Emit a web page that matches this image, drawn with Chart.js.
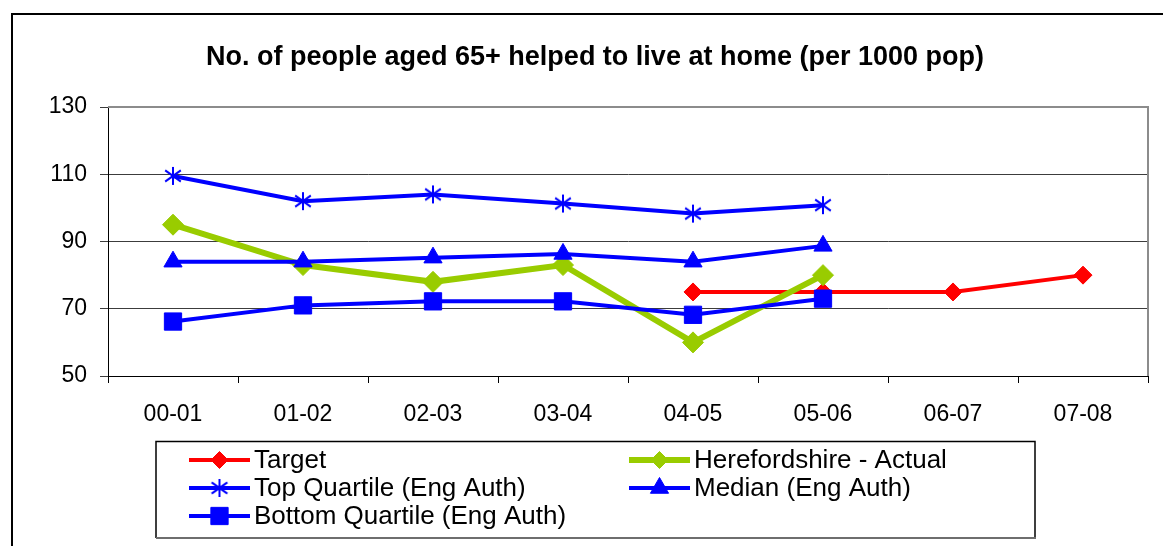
<!DOCTYPE html>
<html>
<head>
<meta charset="utf-8">
<script src="https://cdn.jsdelivr.net/npm/chart.js@4.4.1/dist/chart.umd.min.js"></script>
<style>
  html, body { margin: 0; padding: 0; background: #fff; }
  #wrap { width: 1163px; height: 546px; position: relative; }
</style>
</head>
<body>
<div id="wrap"><canvas id="c" width="1163" height="546"></canvas></div>
<script>
// Financial years on the category axis
const categories = ['00-01', '01-02', '02-03', '03-04', '04-05', '05-06', '06-07', '07-08'];

// Series values (per 1000 population aged 65+)
const target         = [null, null, null, null, 75, 75, 75, 80];
const herefordshire  = [95, 83, 78, 83, 60, 80, null, null];
const topQuartile    = [109.5, 102, 104, 101.3, 98.3, 100.8, null, null];
const median         = [84, 84, 85.2, 86.3, 84, 88.7, null, null];
const bottomQuartile = [66.2, 71, 72.2, 72.2, 68.2, 73, null, null];

// Value axis ticks
const yTicks = [50, 70, 90, 110, 130];

const chartTitle = 'No. of people aged 65+ helped to live at home (per 1000 pop)';
const seriesNames = [
  'Target',
  'Herefordshire - Actual',
  'Top Quartile (Eng Auth)',
  'Median (Eng Auth)',
  'Bottom Quartile (Eng Auth)'
];

const FONT = '"Liberation Sans", Arial, Helvetica, sans-serif';
const BLUE = '#0000FF';
const RED = '#FF0000';
const GREEN = '#99CC00';

// Asterisk marker: vertical stroke plus a cross
function makeAsterisk(size, color, lw) {
  const c = document.createElement('canvas');
  c.width = size; c.height = size;
  const g = c.getContext('2d');
  g.strokeStyle = color;
  g.lineWidth = lw;
  g.lineCap = 'butt';
  const m = size / 2, r = size / 2 - 1;
  g.beginPath();
  g.moveTo(m, m - r); g.lineTo(m, m + r);
  const dx = r * 0.87, dy = r * 0.62;
  g.moveTo(m - dx, m - dy); g.lineTo(m + dx, m + dy);
  g.moveTo(m - dx, m + dy); g.lineTo(m + dx, m - dy);
  g.stroke();
  return c;
}
const asterisk = makeAsterisk(20, BLUE, 2);

function line(label, data, color, width, style, radius, order) {
  return {
    label, data, order,
    borderColor: color,
    backgroundColor: color,
    borderWidth: width,
    pointStyle: style,
    pointRadius: radius,
    pointHoverRadius: radius,
    pointBackgroundColor: color,
    pointBorderColor: color,
    pointBorderWidth: 1,
    tension: 0,
    spanGaps: false,
    fill: false
  };
}

const datasets = [
  line(seriesNames[0], target, RED, 4, 'rectRot', 9, 5),
  line(seriesNames[1], herefordshire, GREEN, 6, 'rectRot', 10.5, 4),
  line(seriesNames[2], topQuartile, BLUE, 4, asterisk, 10, 3),
  line(seriesNames[3], median, BLUE, 4, 'triangle', 10.5, 2),
  line(seriesNames[4], bottomQuartile, BLUE, 4, 'rect', 12.2, 1)
];

// White page, outer frame lines, title and the plot-area border
const framePlugin = {
  id: 'frame',
  beforeDraw(chart) {
    const ctx = chart.ctx;
    ctx.save();
    ctx.fillStyle = '#fff';
    ctx.fillRect(0, 0, chart.width, chart.height);
    ctx.strokeStyle = '#000';
    ctx.lineWidth = 2;
    ctx.beginPath();
    ctx.moveTo(12, chart.height);
    ctx.lineTo(12, 14);
    ctx.lineTo(chart.width, 14);
    ctx.stroke();
    ctx.fillStyle = '#000';
    ctx.font = 'bold 27px ' + FONT;
    ctx.textAlign = 'center';
    ctx.textBaseline = 'alphabetic';
    ctx.fillText(chartTitle, 595, 64.5);
    ctx.restore();
  },
  beforeDatasetsDraw(chart) {
    const a = chart.chartArea, ctx = chart.ctx;
    ctx.save();
    ctx.strokeStyle = '#8c8c8c';
    ctx.lineWidth = 2;
    ctx.beginPath();
    ctx.moveTo(a.left, a.top);
    ctx.lineTo(a.right, a.top);
    ctx.lineTo(a.right, a.bottom);
    ctx.stroke();
    ctx.restore();
  }
};

function drawMarkerPath(ctx, style, r, x, y) {
  if (style === 'rectRot') {
    ctx.moveTo(x - r, y); ctx.lineTo(x, y - r); ctx.lineTo(x + r, y); ctx.lineTo(x, y + r); ctx.closePath();
  } else if (style === 'rect') {
    const s = r * Math.SQRT1_2;
    ctx.rect(x - s, y - s, 2 * s, 2 * s);
  } else if (style === 'triangle') {
    ctx.moveTo(x, y - r);
    ctx.lineTo(x + r * Math.sin(2 * Math.PI / 3), y - r * Math.cos(2 * Math.PI / 3));
    ctx.lineTo(x + r * Math.sin(4 * Math.PI / 3), y - r * Math.cos(4 * Math.PI / 3));
    ctx.closePath();
  }
}

// Boxed two-column legend with line-and-marker samples
const boxLegend = {
  id: 'boxLegend',
  afterDraw(chart) {
    const ctx = chart.ctx;
    const L = 156, T = 441.5, R = 1035, B = 538;
    ctx.save();
    ctx.fillStyle = '#fff';
    ctx.fillRect(L, T, R - L, B - T);
    ctx.strokeStyle = '#000';
    ctx.lineWidth = 1.5;
    ctx.beginPath();
    ctx.moveTo(L, B); ctx.lineTo(L, T); ctx.lineTo(R, T); ctx.lineTo(R, B);
    ctx.stroke();
    ctx.strokeStyle = '#6e6e6e';
    ctx.lineWidth = 2;
    ctx.beginPath();
    ctx.moveTo(L, B); ctx.lineTo(R + 1, B);
    ctx.stroke();

    const cols = [189, 629];
    const rows = [460, 488, 516];
    const slots = [[0, 0], [1, 0], [0, 1], [1, 1], [0, 2]];
    chart.data.datasets.forEach((ds, i) => {
      const x0 = cols[slots[i][0]], y = rows[slots[i][1]];
      ctx.strokeStyle = ds.borderColor;
      ctx.lineWidth = ds.borderWidth;
      ctx.beginPath();
      ctx.moveTo(x0, y); ctx.lineTo(x0 + 61, y);
      ctx.stroke();
      const r = ds.pointStyle === 'rectRot' ? 8.5 : ds.pointRadius;
      if (typeof ds.pointStyle === 'string') {
        ctx.fillStyle = ds.pointBackgroundColor;
        ctx.strokeStyle = ds.pointBorderColor;
        ctx.lineWidth = 1;
        ctx.beginPath();
        drawMarkerPath(ctx, ds.pointStyle, r, x0 + 30.5, y);
        ctx.fill(); ctx.stroke();
      } else {
        const img = ds.pointStyle;
        ctx.drawImage(img, x0 + 30.5 - img.width / 2, y - img.height / 2);
      }
      ctx.fillStyle = '#000';
      ctx.font = '26px ' + FONT;
      ctx.textAlign = 'left';
      ctx.textBaseline = 'middle';
      ctx.fillText(ds.label, x0 + 65, y + 1);
    });
    ctx.restore();
  }
};

new Chart(document.getElementById('c'), {
  type: 'line',
  data: { labels: categories, datasets },
  options: {
    responsive: false,
    animation: false,
    devicePixelRatio: 1,
    layout: { padding: { left: 0, right: 15, top: 107, bottom: 0 } },
    plugins: {
      legend: { display: false },
      tooltip: { enabled: false },
      title: { display: false }
    },
    scales: {
      x: {
        offset: true,
        grid: { offset: true, drawOnChartArea: false, drawTicks: true, tickLength: 7, color: '#000' },
        border: { display: true, color: '#000', width: 1 },
        ticks: { color: '#000', font: { family: FONT, size: 23 }, padding: 18, maxRotation: 0, autoSkip: false },
        afterFit(scale) { scale.height = 170; }
      },
      y: {
        min: 50,
        max: 130,
        afterBuildTicks(scale) { scale.ticks = yTicks.map(v => ({ value: v })); },
        grid: { color: '#3c3c3c', lineWidth: 1, tickLength: 8 },
        border: { display: true, color: '#000', width: 1 },
        ticks: { color: '#000', font: { family: FONT, size: 23 }, padding: 13 },
        afterFit(scale) { scale.width = 108; }
      }
    }
  },
  plugins: [framePlugin, boxLegend]
});
</script>
</body>
</html>
